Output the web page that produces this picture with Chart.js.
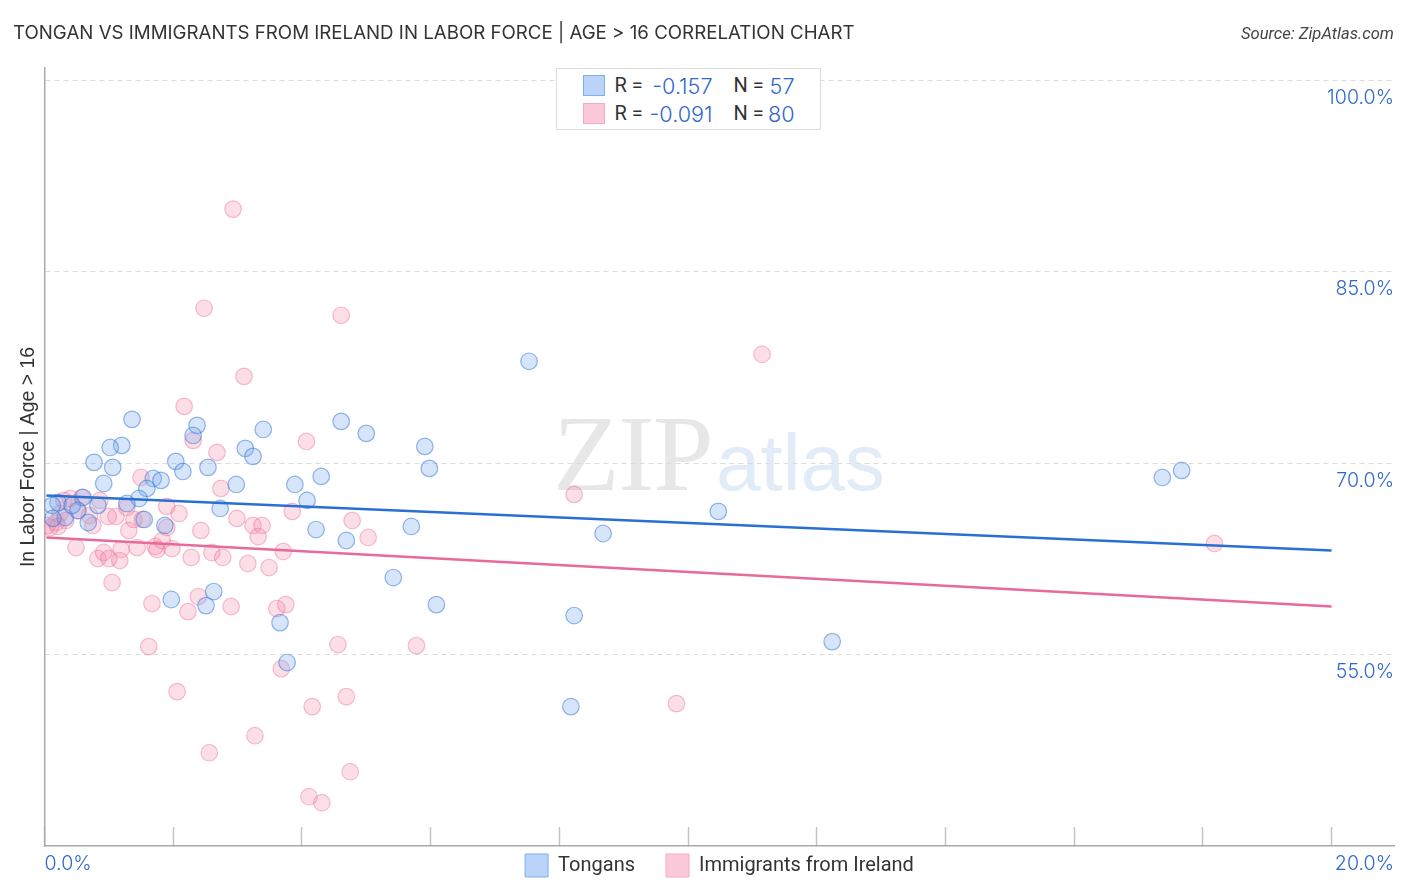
<!DOCTYPE html>
<html><head><meta charset="utf-8">
<script src="https://cdn.jsdelivr.net/npm/chart.js@4"></script>
<style>
html,body{margin:0;padding:0;background:#fff;width:1406px;height:892px;overflow:hidden}
#wrap{position:relative;width:1406px;height:892px}
canvas{position:absolute;left:0;top:0;z-index:2}
.t{position:absolute;white-space:nowrap;font-family:Roboto,sans-serif}
#source{right:12px;top:24px;font-size:16.6px;font-style:italic;color:#444;z-index:3}
#zip{left:553px;top:398.7px;line-height:1;font-family:"Liberation Serif",serif;font-size:109px;color:#e7e7e7;letter-spacing:-1.5px;z-index:1}
#atlas{left:716px;top:423.3px;line-height:1;font-family:"Liberation Sans",sans-serif;font-size:80px;color:#e2ebf8;z-index:1}
#box{position:absolute;left:555.5px;top:68px;width:265px;height:62px;box-sizing:border-box;border:1px solid #ddd;background:#fff;z-index:3}
.sw{position:absolute;left:26px;width:22px;height:21px;box-sizing:border-box;border-width:1px;border-style:solid}
.r{font-size:20px;color:#333}.v{font-size:21.6px;color:#2f68cc;font-family:Inter,sans-serif;font-weight:300}
</style></head><body><div id="wrap">
<canvas id="c" width="1406" height="892"></canvas>
<div class="t" id="source">Source: ZipAtlas.com</div>
<div class="t" id="zip">ZIP</div><div class="t" id="atlas">atlas</div>
<div id="box"></div>
</div>
<script>
const chartTitle = "TONGAN VS IMMIGRANTS FROM IRELAND IN LABOR FORCE | AGE > 16 CORRELATION CHART";
const yAxisTitle = "In Labor Force | Age > 16";
const seriesNames = ["Tongans", "Immigrants from Ireland"];
const statsR = ["-0.157", "-0.091"];
const statsN = ["57", "80"];
const yTicks = [55, 70, 85, 100];
const xTicks = [0,2,4,6,8,10,12,14,16,18,20];
const xLabels = ["0.0%", "20.0%"];
const tonganX = [17.67,17.37,7.53,1.36,2.37,2.31,1.20,1.02,3.40,4.61,5.00,5.91,3.12,3.24,0.77,1.06,2.04,2.15,2.54,5.98,4.30,3.89,2.98,0.92,1.69,1.81,1.59,0.60,1.47,1.28,0.83,0.21,4.08,2.73,10.47,1.55,1.87,0.68,5.70,4.22,4.69,8.68,5.42,6.09,1.97,2.63,2.51,8.23,3.66,12.24,3.77,8.18,0.52,0.32,0.12,0.13,0.43];
const tonganY = [69.42,68.87,77.97,73.42,72.95,72.16,71.38,71.22,72.63,73.26,72.32,71.30,71.15,70.52,70.05,69.66,70.13,69.34,69.66,69.58,68.95,68.32,68.32,68.40,68.79,68.64,68.01,67.30,67.22,66.83,66.68,66.91,67.07,66.44,66.21,65.58,65.11,65.34,65.03,64.79,63.93,64.48,61.03,58.91,59.31,59.93,58.83,58.05,57.50,56.01,54.37,50.92,66.28,65.73,66.68,65.66,66.68];
const irelandX = [2.93,2.48,4.61,11.15,3.10,2.17,4.07,2.31,2.68,8.23,2.74,1.50,1.90,2.09,3.85,4.78,2.99,3.24,3.38,3.32,5.03,2.43,1.31,1.39,1.11,1.28,1.52,1.90,0.86,0.58,0.40,0.99,0.75,0.51,0.24,0.18,0.09,18.18,3.71,0.49,0.83,0.92,1.00,1.19,1.17,1.44,1.72,1.75,1.83,1.98,2.28,2.60,2.77,3.16,3.49,1.05,1.67,2.39,2.23,2.90,3.61,3.75,1.62,4.56,5.78,2.06,3.68,4.69,4.16,9.82,3.27,2.56,4.75,4.11,4.31,0.04,0.33,0.21,0.70,0.30];
const irelandY = [89.89,82.12,81.57,78.52,76.79,74.44,71.69,71.77,70.83,67.54,68.01,68.87,66.60,66.05,66.21,65.50,65.66,65.11,65.11,64.24,64.17,64.72,64.72,65.58,65.81,66.52,65.58,64.95,67.07,67.30,67.22,65.81,65.11,66.28,66.05,65.34,64.95,63.70,63.07,63.38,62.52,62.99,62.52,63.23,62.36,63.38,63.46,63.23,63.93,63.30,62.60,62.99,62.60,62.13,61.81,60.64,58.99,59.54,58.36,58.76,58.60,58.91,55.62,55.78,55.70,52.09,53.89,51.70,50.92,51.15,48.64,47.31,45.82,43.86,43.39,65.11,65.50,65.03,65.89,67.07];
const trendX = [0.03, 20];
const tonganTrend = [67.46, 63.15];
const irelandTrend = [64.17, 58.76];

const BLUE="#2f68cc", BLUEFILL="rgba(120,170,235,0.30)", BLUEEDGE="rgba(45,115,215,0.50)", BLUELINE="#2a6fd3";
const PINKFILL="rgba(243,135,170,0.28)", PINKEDGE="rgba(236,105,150,0.42)", PINKLINE="#e8699b";
const zip=(a,b)=>a.map((x,i)=>({x,y:b[i]}));

const box=document.getElementById('box');
[[BLUEFILL,'#7fb0ea','#b9d4f8'],[PINKFILL,'#f5a9c2','#fcc9da']].forEach((c,i)=>{
  const top=[6,34][i];
  const s=document.createElement('div');s.className='sw';s.style.top=top+'px';s.style.background=c[2];s.style.borderColor=c[1];box.appendChild(s);
  const add=(txt,cl,left,right)=>{const d=document.createElement('div');d.className='t '+cl;d.textContent=txt;d.style.top=(top-2)+'px';
    if(left!=null)d.style.left=left+'px';else d.style.right=right+'px';box.appendChild(d);};
  add('R =','r',58);add(statsR[i],'v',null,107);add('N =','r',177);add(statsN[i],'v',null,25);
});

const pin={id:'pin',afterLayout(ch){
  if(ch.legend){ch.legend.left+=16;ch.legend.right+=16;ch.legend.top-=23;ch.legend.bottom-=23;}
  ch.scales.xl.bottom=ch.height;
}};
new Chart(document.getElementById('c'),{
  type:'scatter',
  plugins:[pin],
  data:{datasets:[
    {label:seriesNames[1],data:zip(irelandX,irelandY),backgroundColor:PINKFILL,borderColor:PINKEDGE,borderWidth:1.2,pointRadius:8.3,order:3},
    {label:seriesNames[0],data:zip(tonganX,tonganY),backgroundColor:BLUEFILL,borderColor:BLUEEDGE,borderWidth:1.2,pointRadius:8.3,order:2},
    {label:'Tongans trend',type:'line',data:zip(trendX,tonganTrend),borderColor:BLUELINE,borderWidth:2.4,pointRadius:0,order:1},
    {label:'Ireland trend',type:'line',data:zip(trendX,irelandTrend),borderColor:PINKLINE,borderWidth:2.4,pointRadius:0,order:0}
  ]},
  options:{
    responsive:false,animation:false,devicePixelRatio:1,
    layout:{padding:{left:13,right:12,top:0,bottom:-18}},
    plugins:{
      tooltip:{enabled:false},
      title:{display:true,text:chartTitle,align:'start',color:'#333',font:{family:'Inter',size:18.7,weight:'400',lineHeight:1.2},padding:{top:22,bottom:23.6}},
      legend:{display:true,position:'bottom',
        labels:{boxWidth:23,boxHeight:23,padding:31,color:'#333',font:{family:'Roboto',size:20},
          generateLabels:()=>[
            {text:seriesNames[0],fillStyle:'#b9d4f8',strokeStyle:'#7fb0ea',lineWidth:1,fontColor:'#333'},
            {text:seriesNames[1],fillStyle:'#fcc9da',strokeStyle:'#f5a9c2',lineWidth:1,fontColor:'#333'}]}}
    },
    scales:{
      x:{type:'linear',position:'bottom',min:0,max:20.97,
        afterBuildTicks:s=>{s.ticks=xTicks.map(value=>({value}));},
        afterFit:s=>{s.height=0;},
        border:{display:true,color:'#aaa',width:1.5},
        grid:{display:true,drawOnChartArea:false,drawTicks:true,tickLength:-19,tickColor:'#c4c4c4',tickWidth:1.5},
        ticks:{display:true,callback:()=>''}},
      xl:{type:'linear',position:'bottom',min:0,max:20.97,
        afterBuildTicks:s=>{s.ticks=[{value:0},{value:20.97}];},
        afterFit:s=>{s.height=0;},
        border:{display:false},grid:{display:false,drawTicks:false},
        ticks:{align:'inner',padding:6.5,maxRotation:0,autoSkip:false,color:BLUE,font:{family:'Inter',size:19.6,weight:'300'},
          callback:(v,i)=>xLabels[i]}},
      y:{type:'linear',position:'left',min:40,max:100.94,
        afterFit:s=>{s.width=31.5;},
        title:{display:true,text:yAxisTitle,color:'#333',font:{family:'Liberation Sans',size:19.4,lineHeight:1.2},padding:{top:3.6,bottom:0}},
        border:{display:true,color:'#aaa',width:1.5,dash:[5,4]},
        afterBuildTicks:s=>{s.ticks=[{value:40}].concat(yTicks.map(value=>({value})));},
        grid:{drawTicks:false,color:c=>c.tick&&c.tick.value===40?'rgba(0,0,0,0)':'#dcdcdc',lineWidth:1},
        ticks:{display:false}},
      yl:{type:'linear',position:'right',min:40,max:100.94,
        afterFit:s=>{s.width=0;},
        afterBuildTicks:s=>{s.ticks=yTicks.map(value=>({value}));},
        border:{display:false},grid:{display:false,drawTicks:false},
        ticks:{mirror:true,padding:0,labelOffset:18,color:BLUE,font:{family:'Inter',size:19.6,weight:'300'},callback:v=>v.toFixed(1)+'%'}}
    }
  }
});
</script></body></html>
